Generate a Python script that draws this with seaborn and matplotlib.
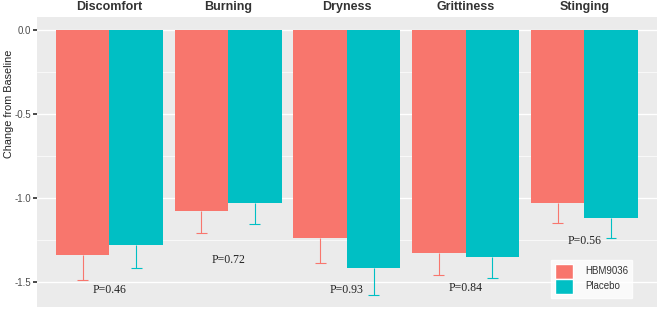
import matplotlib
matplotlib.use("Agg")
import matplotlib.pyplot as plt
import seaborn as sns
import pandas as pd
import numpy as np
from matplotlib.patches import Patch

symptoms = ["Discomfort", "Burning", "Dryness", "Grittiness", "Stinging"]
groups = ["HBM9036", "Placebo"]
hbm_mean = [-1.34, -1.08, -1.24, -1.33, -1.03]
placebo_mean = [-1.28, -1.03, -1.42, -1.35, -1.12]
hbm_se = [0.15, 0.13, 0.15, 0.13, 0.12]
placebo_se = [0.14, 0.125, 0.16, 0.13, 0.12]
p_labels = ["P=0.46", "P=0.72", "P=0.93", "P=0.84", "P=0.56"]
p_y = [-1.55, -1.37, -1.55, -1.54, -1.255]
colors = ["#F8766D", "#00BFC4"]

df = pd.DataFrame({
    "symptom": symptoms * 2,
    "group": [groups[0]] * 5 + [groups[1]] * 5,
    "value": hbm_mean + placebo_mean,
    "se": hbm_se + placebo_se,
})

sns.set_theme(style="darkgrid")
plt.rcParams["font.family"] = ["Liberation Sans", "DejaVu Sans"]

fig = plt.figure(figsize=(6.6, 3.11), dpi=100)
ax = fig.add_axes([0.056, 0.013, 0.939, 0.932])
ax.set_facecolor("#EBEBEB")

sns.barplot(data=df, x="symptom", y="value", hue="group", order=symptoms,
            hue_order=groups, palette=colors, width=0.9, errorbar=None,
            saturation=1, ax=ax, legend=False, linewidth=0)

# error bars (lower only) from bar geometry
cap = 0.046
bars = [p for p in ax.patches]
for i, p in enumerate(bars[:10]):
    gi = i // 5
    si = i % 5
    cx = p.get_x() + p.get_width() / 2
    val = df[(df.group == groups[gi]) & (df.symptom == symptoms[si])]
    m = float(val.value.iloc[0]); s = float(val.se.iloc[0])
    ax.vlines(cx, m - s, m, color=colors[gi], linewidth=0.8, zorder=1.5)
    ax.hlines(m - s, cx - cap, cx + cap, color=colors[gi], linewidth=0.8, zorder=1.5)

for i, (t, y) in enumerate(zip(p_labels, p_y)):
    ax.text(i, y, t, ha="center", va="center", fontsize=8.5,
            family=["Liberation Serif", "DejaVu Serif"], color="#222222")

ax.set_ylim(-1.65, 0.077)
ax.set_xlim(-0.61, 4.61)
ax.set_yticks([0.0, -0.5, -1.0, -1.5])
ax.set_yticklabels(["0.0", "-0.5", "-1.0", "-1.5"])
ax.set_yticks([-0.25, -0.75, -1.25], minor=True)
ax.grid(axis="y", which="major", color="white", linewidth=1.0)
ax.grid(axis="y", which="minor", color="white", linewidth=0.5)
ax.grid(axis="x", visible=False)
ax.set_axisbelow(True)
for sp in ax.spines.values():
    sp.set_visible(False)

ax.tick_params(axis="y", which="major", length=3, color="#333333", labelsize=7,
               labelcolor="#4D4D4D", pad=1.5, left=True)
ax.tick_params(axis="y", which="minor", length=0)
ax.xaxis.tick_top()
ax.tick_params(axis="x", length=0, pad=3, labelsize=9, labelcolor="#333333")
for lab in ax.get_xticklabels():
    lab.set_fontweight("bold")
ax.set_xlabel("")
ax.set_ylabel("Change from Baseline", fontsize=7.8, color="#222222")
ax.yaxis.set_label_coords(-0.037, 0.70)

handles = [Patch(facecolor=colors[0], label=groups[0]),
           Patch(facecolor=colors[1], label=groups[1])]
leg = ax.legend(handles=handles, loc="lower right", bbox_to_anchor=(0.968, 0.015),
                frameon=True, fontsize=7, handlelength=1.9, handleheight=2.0,
                labelspacing=0.0, handletextpad=1.2, borderpad=0.4,
                fancybox=False)
leg.get_frame().set_facecolor("white")
leg.get_frame().set_edgecolor("white")
for t in leg.get_texts():
    t.set_color("#333333")

fig.savefig("out.png", dpi=100)
